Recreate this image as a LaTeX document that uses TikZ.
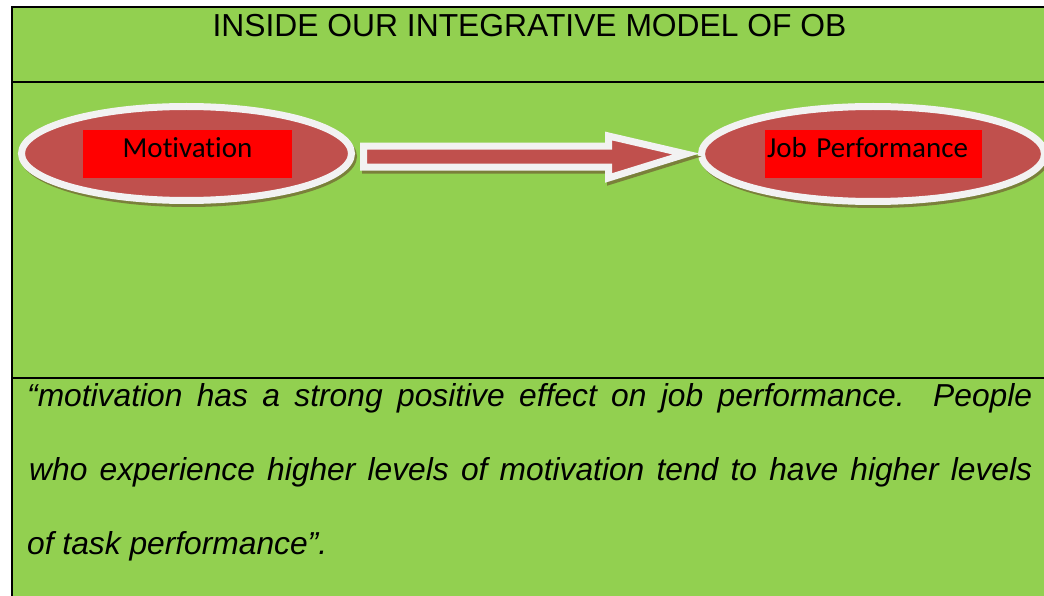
\documentclass[tikz,border=0pt]{standalone}
\usepackage{fontspec}
\setmainfont{Liberation Sans}
\newfontfamily\boxfont[Ligatures={NoCommon}]{Carlito}
\usetikzlibrary{shapes.geometric,calc}
\definecolor{panelgreen}{RGB}{146,208,80}
\definecolor{ovalred}{RGB}{192,80,77}
\definecolor{rimwhite}{RGB}{242,242,242}
\definecolor{shadowolive}{RGB}{122,128,58}
% block arrow outline between (tail) and (tip), offset by (#1,#2)
\newcommand\blockarrow[2]{%
  ($(tail)+(#1,#2-7.3)$) -- ($(tip)+(#1-77.5,#2-7.8)$) -- ($(tip)+(#1-77.5,#2-18)$)
  -- ($(tip)+(#1,#2)$) -- ($(tip)+(#1-77.5,#2+24)$) -- ($(tip)+(#1-77.5,#2+13.2)$)
  -- ($(tail)+(#1,#2+13.7)$) -- cycle}
\begin{document}
\begin{tikzpicture}[x=1pt,y=-1pt,
  oval/.style={ellipse, draw=rimwhite, fill=ovalred, line width=7pt, inner sep=0pt},
  ovalshadow/.style={fill=shadowolive},
  tag/.style={fill=red, inner sep=0pt, text height=28pt, text depth=20pt,
    font=\boxfont\fontsize{29}{34}\selectfont},
  rule/.style={line width=2pt, draw=black},
  quote/.style={anchor=base west, inner sep=0pt, font=\itshape\fontsize{31.75}{38}\selectfont}]
\useasboundingbox (0,0) rectangle (1044,596);
\fill[white] (0,0) rectangle (1044,596);
\fill[panelgreen] (12,7) rectangle (1044,596);

% frame and row separators
\draw[rule] (1044,7) -- (12,7) -- (12,596);
\draw[rule] (12,81.7) -- (1044,81.7);
\draw[rule] (12,377.7) -- (1044,377.7);

% title row
\node[anchor=base, inner sep=0pt, font=\fontsize{31.8}{38}\selectfont] (title)
  at (529.5,37) {INSIDE OUR INTEGRATIVE MODEL OF OB};

% ovals with their drop shadows
\coordinate (mc) at (186.5,153.5);
\coordinate (jc) at (873,154);
\fill[ovalshadow] ($(mc)+(2,3)$) ellipse [x radius=168.5pt, y radius=50.5pt];
\fill[ovalshadow] ($(jc)+(2,3)$) ellipse [x radius=175pt, y radius=51pt];
\node[oval, minimum width=330pt, minimum height=94pt] (mot) at (mc) {};
\node[oval, minimum width=343pt, minimum height=95pt] (job) at (jc) {};

\node[tag, minimum width=209pt] (motlbl) at (187.5,154) {Motivation};
\node[tag, minimum width=217pt, text width=213pt, align=left] (joblbl) at (873.5,154) {Job Performance};

% block arrow from Motivation to Job Performance
\coordinate (tail) at ($(mot.east)+(8.5,0)$);
\coordinate (tip) at ($(job.west)+(-12,0)$);
\filldraw[shadowolive, line width=7pt, miter limit=10] \blockarrow{2}{3};
\filldraw[draw=rimwhite, fill=ovalred, line width=7pt, miter limit=10] \blockarrow{0}{0};

% quotation row
\node[quote] (q1) at (27,406.7)
  {\makebox[1005pt][s]{“motivation has a strong positive effect on job performance. People}};
\node[quote] (q2) at (29,480)
  {\makebox[1003pt][s]{who experience higher levels of motivation tend to have higher levels}};
\node[quote] (q3) at (27,554) {of task performance”.};
\end{tikzpicture}
\end{document}
